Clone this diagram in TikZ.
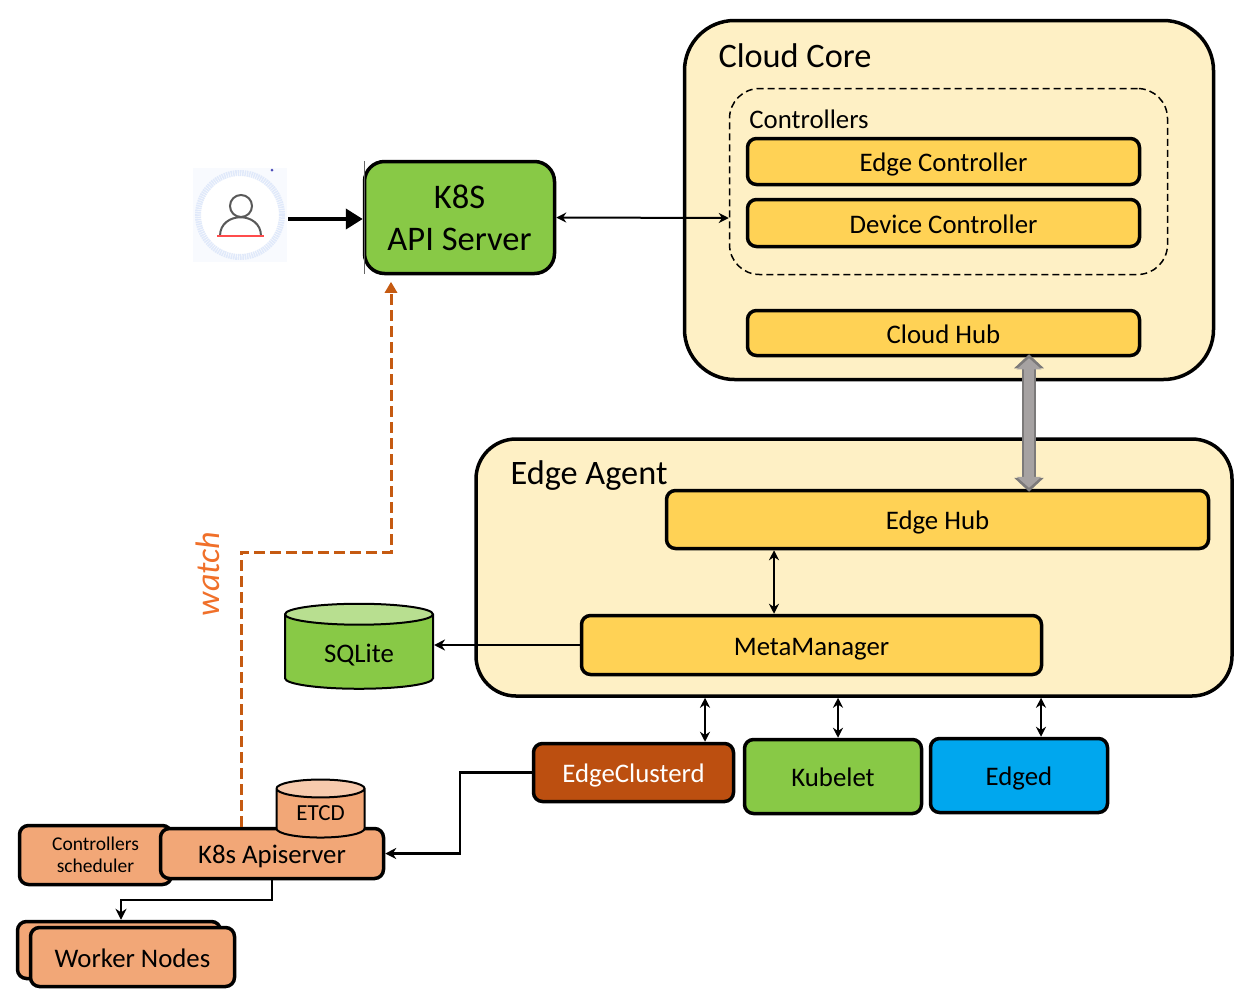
\documentclass[tikz,border=0pt]{standalone}
\usepackage{fontspec}
\setmainfont{Carlito}
\usepackage{tikz}
\usetikzlibrary{arrows.meta,shapes.geometric}
\definecolor{paneCream}{HTML}{FEF0C5}
\definecolor{hubYellow}{HTML}{FFD255}
\definecolor{leafGreen}{HTML}{88C946}
\definecolor{rustBrown}{HTML}{BC4F10}
\definecolor{skyBlue}{HTML}{00A7EE}
\definecolor{peach}{HTML}{F2A777}
\definecolor{watchLine}{HTML}{C55A11}
\definecolor{watchText}{HTML}{F0702A}
\definecolor{iconBack}{HTML}{F8FAFE}
\definecolor{iconRing}{HTML}{E0E9FA}
\definecolor{pipeEdge}{HTML}{7C7A7A}
\definecolor{pipeFill}{HTML}{A6A2A2}
\newcommand*\fs[2]{\fontsize{#1}{#2}\selectfont}
\tikzset{
  pane/.style={draw,line width=3.5,fill=paneCream,rounded corners=#1,inner sep=0},
  block/.style={draw,line width=3.5,rounded corners=#1,inner sep=0,align=center},
  block/.default=9,
  oneline/.style={font=\fs{26.8}{30},text height=#1,text depth=0},
  oneline/.default=20,
  yblock/.style={block,fill=hubYellow,oneline},
  can/.style={draw,line width=2,cylinder,shape border rotate=90,aspect=#1,cylinder uses custom fill,inner sep=0},
  link/.style={line width=2,{Stealth[length=10,width=10]}-{Stealth[length=10,width=10]}},
  onelink/.style={line width=2.5,-{Stealth[length=11,width=11]}},
}
\begin{document}
\begin{tikzpicture}[x=1pt,y=-1pt]
\useasboundingbox (0,0) rectangle (1242,1002);
%-------->cloud core<--------------
\node[pane=50,minimum width=529,minimum height=359] (cloudcore) at (949,200) {};
\node[font=\fs{34.3}{38}] (cloudtitle) at (795,56) {Cloud Core};
\node[draw,dash pattern=on 7pt off 4pt,line width=1.5,rounded corners=30,minimum width=438,minimum height=186] (controllers) at (948.5,181.5) {};
\node[font=\fs{26.8}{30}] (controllerstitle) at (809,119) {Controllers};
\node[yblock,minimum width=392,minimum height=46] (edgecontroller) at (943.5,161.5) {Edge Controller};
\node[yblock,minimum width=392,minimum height=47] (devicecontroller) at (943.5,223) {Device Controller};
\node[yblock,minimum width=392,minimum height=45] (cloudhub) at (943.5,333) {Cloud Hub};
%-------->edge agent<--------------
\node[pane=40,minimum width=756,minimum height=257] (edgeagent) at (854,567.5) {};
\node[font=\fs{34.3}{38}] (edgetitle) at (589,476) {Edge Agent};
\node[yblock,minimum width=542,minimum height=58] (edgehub) at (937.5,519.5) {Edge Hub};
\node[yblock,minimum width=460,minimum height=59] (metamanager) at (811.5,645) {MetaManager};
%-------->agents under the edge<--------------
\node[block,fill=rustBrown,text=white,oneline,minimum width=200,minimum height=58] (edgeclusterd) at (633.5,772.5) {EdgeClusterd};
\node[block,fill=leafGreen,oneline,minimum width=177,minimum height=74] (kubelet) at (833,776.5) {Kubelet};
\node[block,fill=skyBlue,oneline,minimum width=177,minimum height=74] (edged) at (1019,775.5) {Edged};
%-------->api server and user<--------------
\node[block=20,fill=leafGreen,font=\fs{34.5}{42},minimum width=190,minimum height=112] (apiserver) at (459.5,217.5) {K8S\\API Server};
\draw[line width=.7,black!60] (364,161) -- (364,274);
\fill[iconBack] (193,168) rectangle (287,262);
\draw[iconRing,fill=white,line width=6,dash pattern=on 1.5pt off .8pt] (240,215) circle (42);
\draw[line width=2,black!65] (241,206) circle (11);
\draw[line width=2,black!65] (220,236) .. controls (220,211) and (261,211) .. (261,236);
\draw[line width=2.5,red!70] (217,236) -- (264,236);
\fill[blue!60!black!70] (272,170) circle (1.5);
\coordinate (userport) at (288,219);
\draw[line width=4,-{Triangle[length=17,width=20]}] (userport) -- (userport -| apiserver.west);
\draw[link] (apiserver.east) -- ([yshift=-36.5]controllers.west);
%-------->local store<--------------
\node[can=.3,cylinder body fill=leafGreen,cylinder end fill=leafGreen!60!white,oneline=20,minimum width=148,minimum height=85] (sqlite) at (359,652) {SQLite};
%-------->cluster<--------------
\node[block,fill=peach,font=\fs{19.5}{22},minimum width=152,minimum height=59] (scheduler) at (95.5,855) {Controllers\\scheduler};
\node[block,fill=peach,oneline,minimum width=223,minimum height=50] (apiserverk) at (272,853.5) {K8s Apiserver};
\node[can=.37,cylinder body fill=peach,cylinder end fill=peach!60!white,font=\fs{23}{26},text height=13,text depth=0,minimum width=88,minimum height=58] (etcd) at (320.5,813.5) {ETCD};
\node[block,fill=peach,minimum width=203,minimum height=57] (workerback) at (119,950) {};
\node[block,fill=peach,oneline,minimum width=204,minimum height=59] (workernodes) at (132.5,957) {Worker Nodes};
%-------->connectors<--------------
\coordinate (xhub) at (1029,0);
\draw[line width=14,pipeEdge,{Triangle[length=14,width=29]}-{Triangle[length=14,width=29]}] ([yshift=3]xhub |- cloudhub.south) -- ([yshift=-3]xhub |- edgehub.north);
\draw[line width=10,pipeFill,{Triangle[length=11,width=24]}-{Triangle[length=11,width=24]}] ([yshift=-1]xhub |- cloudhub.south) -- ([yshift=1]xhub |- edgehub.north);
\coordinate (xmeta) at (774,0);
\draw[link] (xmeta |- edgehub.south) -- (xmeta |- metamanager.north);
\draw[onelink] (metamanager.west) -- (sqlite.east |- metamanager.west);
\coordinate (xedge) at (705,0);
\coordinate (xkube) at (838,0);
\coordinate (xedged) at (1041,0);
\draw[link] (xedge |- edgeagent.south) -- (xedge |- edgeclusterd.north);
\draw[link] (xkube |- edgeagent.south) -- (xkube |- kubelet.north);
\draw[link] (xedged |- edgeagent.south) -- (xedged |- edged.north);
\coordinate (xbus) at (460,0);
\draw[onelink] (edgeclusterd.west) -- (xbus |- edgeclusterd.west) -- (xbus |- apiserverk.east) -- (apiserverk.east);
\coordinate (ysplit) at (0,900);
\coordinate (xworker) at (121,0);
\draw[onelink] (apiserverk.south) -- (apiserverk.south |- ysplit) -- (xworker |- ysplit) -- (xworker |- workerback.north);
%-------->watch<--------------
\coordinate (xwatch) at (241,0);
\coordinate (ywatch) at (0,552);
\coordinate (xup) at (391,0);
\draw[watchLine,line width=3,dash pattern=on 11pt off 5pt,-{Triangle[length=11,width=12]}] (xwatch |- apiserverk.north) -- (xwatch |- ywatch) -- (xup |- ywatch) -- ([yshift=-6.5]xup |- apiserver.south);
\node[text=watchText,rotate=90,font=\fs{34}{38}\itshape] (watchlabel) at (208,574) {watch};
\end{tikzpicture}
\end{document}
